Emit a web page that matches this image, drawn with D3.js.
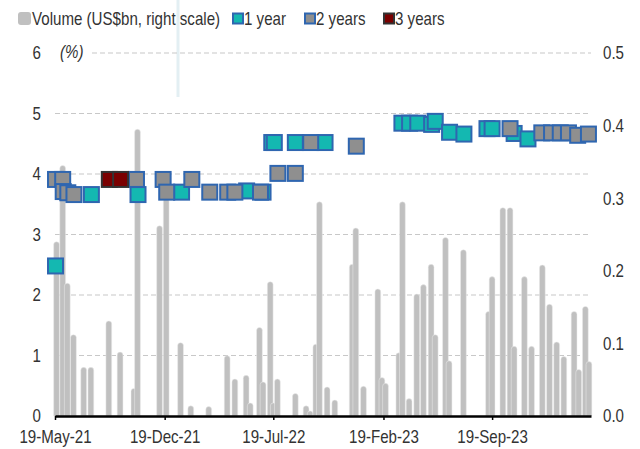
<!DOCTYPE html>
<html lang="en">
  <head>
    <meta charset="UTF-8" />
    <title>Yields and volume</title>
    <script src="https://d3js.org/d3.v7.min.js"></script>
    <style>
      body { margin: 0; background: #fff; }
      svg text { font-family: "Liberation Sans Narrow", "Arial Narrow", "Liberation Sans", sans-serif; fill: #333; }
    </style>
  </head>
  <body>
    <div id="chart"></div>
    <script>
      // volume bars (US$bn, right scale)
      const volDates = [
        "2021-05-22", "2021-06-03", "2021-06-12", "2021-06-24", "2021-07-14", "2021-07-28",
        "2021-09-01", "2021-09-23", "2021-10-20", "2021-10-27", "2021-12-09", "2021-12-22",
        "2022-01-19", "2022-02-08", "2022-03-15", "2022-04-20", "2022-05-05", "2022-05-27",
        "2022-06-04", "2022-06-22", "2022-06-29", "2022-07-13", "2022-07-19", "2022-07-27",
        "2022-08-31", "2022-09-21", "2022-09-29", "2022-10-10", "2022-10-17", "2022-11-01",
        "2022-11-16", "2022-12-20", "2022-12-27", "2023-01-11", "2023-02-08", "2023-02-16",
        "2023-02-23", "2023-03-21", "2023-03-28", "2023-04-10", "2023-04-25", "2023-05-08",
        "2023-05-23", "2023-05-31", "2023-06-20", "2023-06-27", "2023-07-25", "2023-09-12",
        "2023-09-19", "2023-10-10", "2023-10-24", "2023-11-01", "2023-11-21", "2023-12-05",
        "2023-12-26", "2024-01-09", "2024-01-23", "2024-02-06", "2024-02-26", "2024-03-06",
        "2024-03-19", "2024-03-26"
      ];
      const volValues = [
        0.240, 0.345, 0.183, 0.112, 0.067, 0.067,
        0.131, 0.088, 0.038, 0.395, 0.262, 0.300,
        0.101, 0.014, 0.013, 0.083, 0.051, 0.056,
        0.018, 0.122, 0.047, 0.185, 0.018, 0.051,
        0.031, 0.014, 0.007, 0.099, 0.295, 0.040,
        0.022, 0.209, 0.259, 0.041, 0.175, 0.053,
        0.045, 0.087, 0.295, 0.024, 0.168, 0.181,
        0.209, 0.112, 0.246, 0.076, 0.229, 0.144,
        0.192, 0.287, 0.287, 0.096, 0.192, 0.096,
        0.208, 0.154, 0.102, 0.082, 0.144, 0.064,
        0.151, 0.075
      ];

      // yields (%) by tenor
      const y1Dates = [
        "2021-05-20", "2021-07-29", "2021-10-28", "2022-01-21", "2022-05-28", "2022-06-29",
        "2022-07-16", "2022-07-21", "2022-08-31", "2022-10-28", "2023-03-27", "2023-04-11",
        "2023-04-27", "2023-05-24", "2023-05-31", "2023-06-28", "2023-07-26", "2023-09-09",
        "2023-09-19", "2023-11-01", "2023-11-28"
      ];
      const y1Values = [
        2.48, 3.66, 3.66, 3.70, 3.72, 3.70,
        4.52, 4.52, 4.52, 4.52, 4.84, 4.84,
        4.84, 4.82, 4.87, 4.69, 4.66, 4.75,
        4.75, 4.67, 4.58
      ];
      const y2Dates = [
        "2021-05-20", "2021-06-03", "2021-06-04", "2021-06-13", "2021-06-25", "2021-10-25",
        "2021-12-16", "2021-12-23", "2022-02-10", "2022-03-17", "2022-04-21", "2022-05-05",
        "2022-06-24", "2022-07-28", "2022-08-31", "2022-09-30", "2022-12-28", "2023-10-24",
        "2023-12-25", "2024-01-13", "2024-01-30", "2024-02-15", "2024-03-04", "2024-03-25"
      ];
      const y2Values = [
        3.91, 3.91, 3.71, 3.69, 3.66, 3.91,
        3.91, 3.70, 3.91, 3.70, 3.70, 3.70,
        3.70, 4.01, 4.01, 4.52, 4.46, 4.75,
        4.68, 4.68, 4.68, 4.68, 4.64, 4.66
      ];
      const y3Dates = ["2021-09-02", "2021-09-24"];
      const y3Values = [3.91, 3.91];

      const leftTicks = [0, 1, 2, 3, 4, 5, 6];
      const rightTicks = [0, 0.1, 0.2, 0.3, 0.4, 0.5];
      const xTickDates = ["2021-05-19", "2021-12-19", "2022-07-19", "2023-02-19", "2023-09-19"];

      const parse = d3.timeParse("%Y-%m-%d");
      const fmt = d3.timeFormat("%d-%b-%y");
      const squeeze = "scale(0.84,1)"; // no narrow font installed, so squeeze the regular one

      const W = 640, H = 449;
      const svg = d3.select("#chart").append("svg")
        .attr("width", W).attr("height", H);

      const x = d3.scaleTime()
        .domain([parse("2021-05-19"), parse("2024-03-30")])
        .range([55, 591]);
      const yL = d3.scaleLinear().domain([0, 6]).range([416, 53]);
      const yR = d3.scaleLinear().domain([0, 0.5]).range([416, 53]);

      // stray light line from the original page
      svg.append("rect").attr("x", 176.5).attr("y", 0).attr("width", 3).attr("height", 97)
        .attr("fill", "#e3eff3");

      // gridlines
      svg.append("g").selectAll("line")
        .data(leftTicks.filter(d => d > 0))
        .join("line")
        .attr("x1", d => d == 6 ? 92 : 55).attr("x2", 591)
        .attr("y1", d => yL(d)).attr("y2", d => yL(d))
        .attr("stroke", "#c8c8c8").attr("stroke-width", 1.2)
        .attr("stroke-dasharray", "5,3");

      // volume bars, round tops
      const bw = 5.8, br = bw / 2;
      const bars = volDates.map((d, i) => ({ date: parse(d), v: volValues[i] }));
      svg.append("g").selectAll("path")
        .data(bars)
        .join("path")
        .attr("fill", "#c0c0c0")
        .attr("stroke", "#ececec").attr("stroke-width", 0.5)
        .attr("d", d => {
          const cx = x(d.date), t = yR(d.v), b = yR(0);
          if (b - t <= br) return `M${cx - br},${b}V${t}H${cx + br}V${b}Z`;
          return `M${cx - br},${b}V${t + br}A${br},${br} 0 0 1 ${cx + br},${t + br}V${b}Z`;
        });

      // x axis
      const xAxis = svg.append("g")
        .attr("transform", "translate(0,416)")
        .call(d3.axisBottom(x).tickValues(xTickDates.map(parse)).tickFormat(fmt).tickSize(4).tickSizeOuter(0));
      xAxis.select(".domain").attr("stroke", "#000").attr("stroke-width", 2.5);
      xAxis.selectAll(".tick line").attr("stroke", "#000").attr("stroke-width", 1.5);
      xAxis.selectAll(".tick text").attr("font-size", 18).attr("dy", "1.1em")
        .attr("fill", "#333").attr("transform", squeeze);

      // left axis labels
      svg.append("g").selectAll("text")
        .data(leftTicks)
        .join("text")
        .attr("transform", d => `translate(41,${yL(d)}) ${squeeze}`)
        .attr("dy", "0.35em").attr("text-anchor", "end")
        .attr("font-size", 18)
        .text(d => d);
      svg.append("text").attr("transform", `translate(60,58) ${squeeze}`)
        .attr("font-size", 18).attr("font-style", "italic")
        .text("(%)");

      // right axis labels
      svg.append("g").selectAll("text")
        .data(rightTicks)
        .join("text")
        .attr("transform", d => `translate(603,${yR(d)}) ${squeeze}`)
        .attr("dy", "0.35em")
        .attr("font-size", 18)
        .text(d => d.toFixed(1));

      // yield markers
      const series = [
        { dates: y1Dates, values: y1Values, fill: "#14b8b1", stroke: "#2f66b0" },
        { dates: y2Dates, values: y2Values, fill: "#8f8f8f", stroke: "#2f66b0" },
        { dates: y3Dates, values: y3Values, fill: "#7a0000", stroke: "#333333" }
      ];
      const ms = 15;
      series.forEach(s => {
        svg.append("g").selectAll("rect")
          .data(s.dates.map((d, i) => ({ date: parse(d), v: s.values[i] })))
          .join("rect")
          .attr("x", d => x(d.date) - ms / 2)
          .attr("y", d => yL(d.v) - ms / 2)
          .attr("width", ms).attr("height", ms)
          .attr("fill", s.fill).attr("stroke", s.stroke).attr("stroke-width", 2);
      });

      // legend
      const leg = svg.append("g");
      leg.append("rect").attr("x", 18).attr("y", 12).attr("width", 13).attr("height", 13)
        .attr("rx", 3).attr("fill", "#c0c0c0");
      leg.append("text").attr("transform", `translate(32,19) ${squeeze}`).attr("dy", "0.35em")
        .attr("font-size", 18).text("Volume (US$bn, right scale)");
      const legItems = [
        { x: 233, label: "1 year", s: series[0] },
        { x: 305, label: "2 years", s: series[1] },
        { x: 384, label: "3 years", s: series[2] }
      ];
      legItems.forEach(it => {
        leg.append("rect").attr("x", it.x).attr("y", 13.5).attr("width", 10).attr("height", 10)
          .attr("fill", it.s.fill).attr("stroke", it.s.stroke).attr("stroke-width", 2);
        leg.append("text").attr("transform", `translate(${it.x + 11},19) ${squeeze}`).attr("dy", "0.35em")
          .attr("font-size", 18).text(it.label);
      });
    </script>
  </body>
</html>
